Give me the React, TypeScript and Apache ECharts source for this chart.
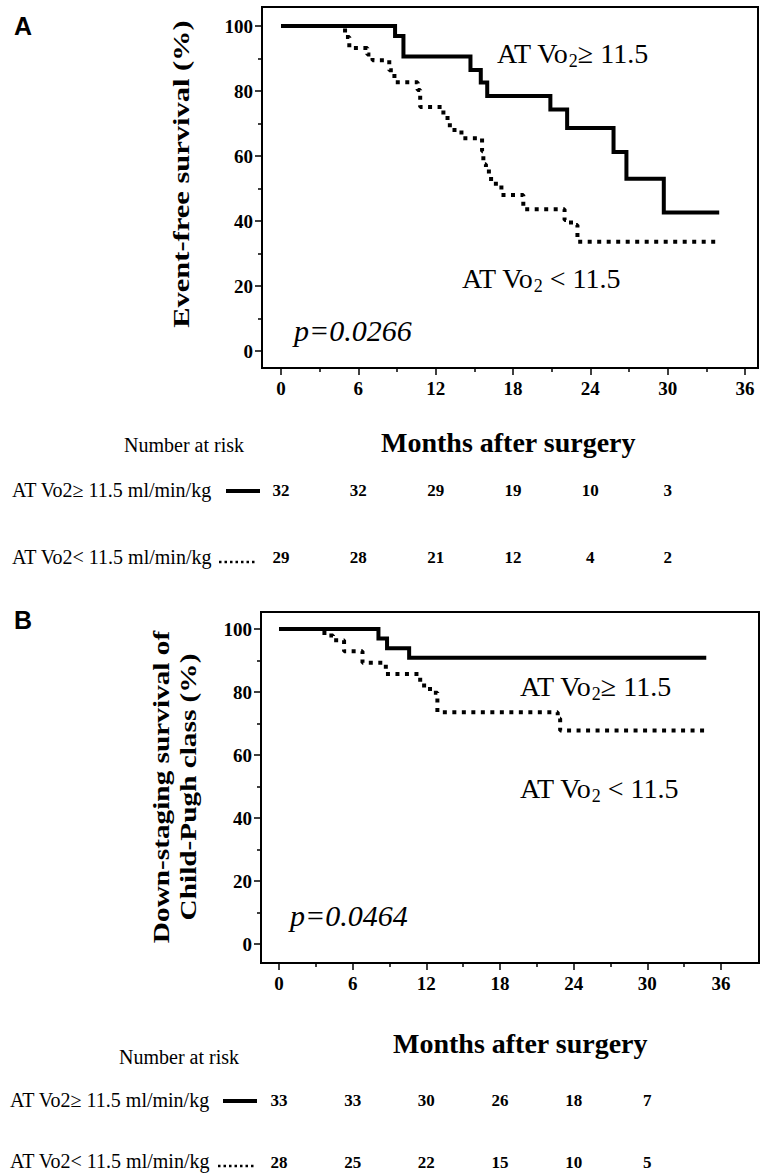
import React, { useEffect, useRef } from "react";
import * as echarts from "echarts";

// ---------- data ----------
const monthTicks = [0, 6, 12, 18, 24, 30, 36];
const monthMinor = [3, 9, 15, 21, 27, 33];
const pctTicks = [0, 20, 40, 60, 80, 100];
const pctMinor = [10, 30, 50, 70, 90];
const riskMonths = [0, 6, 12, 18, 24, 30];

// Panel A: event-free survival (%)
const aHighT = [0, 8.85, 9.5, 14.7, 15.5, 16.0, 20.9, 22.2, 25.8, 26.8, 29.7, 34.0];
const aHighS = [100, 96.9, 90.6, 86.5, 82.6, 78.5, 74.3, 68.6, 61.2, 53.0, 42.6, 42.6];
const aLowT = [0, 4.97, 5.3, 6.7, 7.1, 8.4, 8.8, 10.6, 10.8, 12.6, 13.1, 14.0, 15.6, 15.7, 15.9, 16.3, 17.1, 18.8, 22.0, 22.5, 23.0, 34.0];
const aLowS = [100, 96.6, 93.2, 91.2, 89.5, 86.4, 82.7, 80.3, 75.1, 71.7, 68.0, 65.5, 61.5, 57.5, 55.2, 51.5, 48.0, 43.6, 40.3, 38.8, 33.6, 33.6];

// Panel B: down-staging survival of Child-Pugh class (%)
const bHighT = [0, 8.1, 8.8, 10.6, 34.8];
const bHighS = [100, 97.0, 93.9, 90.9, 90.9];
const bLowT = [0, 3.7, 4.4, 5.3, 6.8, 8.7, 11.5, 12.3, 12.9, 22.7, 22.9, 34.8];
const bLowS = [100, 97.9, 96.4, 92.9, 89.3, 85.7, 82.1, 79.8, 73.6, 71.6, 67.8, 67.8];

// Number at risk
const riskAHigh = [32, 32, 29, 19, 10, 3];
const riskALow = [29, 28, 21, 12, 4, 2];
const riskBHigh = [33, 33, 30, 26, 18, 7];
const riskBLow = [28, 25, 22, 15, 10, 5];

const FONT = '"Liberation Serif", "Times New Roman", serif';

const zip = (t: number[], s: number[]) => t.map((v, i) => [v, s[i]]);

const tickStyle = { color: "#000", width: 1.5 };

function axisBase(grid: number, min: number, max: number, position: string) {
  return {
    type: "value", gridIndex: grid, min, max, position,
    splitLine: { show: false },
    minorTick: { show: false },
  };
}
function xMajor(grid: number, min: number, max: number) {
  return {
    ...axisBase(grid, min, max, "bottom"),
    axisLine: { show: true, onZero: false, lineStyle: { color: "#000", width: 2 } },
    axisTick: { show: true, inside: false, length: 7, customValues: monthTicks, lineStyle: tickStyle },
    axisLabel: { show: true, customValues: monthTicks, color: "#000", fontFamily: FONT, fontSize: 19, fontWeight: "bold", margin: 11 },
  };
}
function xMinor(grid: number, min: number, max: number) {
  return {
    ...axisBase(grid, min, max, "bottom"),
    axisLine: { show: false, onZero: false },
    axisTick: { show: true, inside: false, length: 4, customValues: monthMinor, lineStyle: tickStyle },
    axisLabel: { show: false },
  };
}
function yMajor(grid: number, min: number, max: number) {
  return {
    ...axisBase(grid, min, max, "left"),
    axisLine: { show: true, onZero: false, lineStyle: { color: "#000", width: 2 } },
    axisTick: { show: true, inside: false, length: 7, customValues: pctTicks, lineStyle: tickStyle },
    axisLabel: { show: true, customValues: pctTicks, color: "#000", fontFamily: FONT, fontSize: 19, fontWeight: "bold", margin: 9 },
  };
}
function yMinor(grid: number, min: number, max: number) {
  return {
    ...axisBase(grid, min, max, "left"),
    axisLine: { show: false, onZero: false },
    axisTick: { show: true, inside: false, length: 4, customValues: pctMinor, lineStyle: tickStyle },
    axisLabel: { show: false },
  };
}
function km(name: string, axis: number, t: number[], s: number[], dotted: boolean) {
  return {
    name, type: "line", xAxisIndex: axis, yAxisIndex: axis, step: "end", symbol: "none",
    data: zip(t, s),
    lineStyle: dotted
      ? { color: "#000", width: 4, type: [4, 5.5], cap: "butt" }
      : { color: "#000", width: 4, type: "solid", join: "miter" },
    silent: true,
  };
}

function txt(x: number, y: number, text: string, font: string, align = "left", extra: any = {}) {
  return {
    type: "text", x, y, ...extra,
    style: { text, font, fill: "#000", align, verticalAlign: "middle", textAlign: align, textVerticalAlign: "middle" },
  };
}
function vo2Label(x: number, y: number, rel: string) {
  return {
    type: "text", x, y,
    style: {
      text: `{a|AT Vo}{s|2}{a|${rel}}`,
      fill: "#000", align: "left", verticalAlign: "middle", textAlign: "left", textVerticalAlign: "middle",
      rich: {
        a: { fontFamily: FONT, fontSize: 28, lineHeight: 34, verticalAlign: "middle", fill: "#000" },
        s: { fontFamily: FONT, fontSize: 18, lineHeight: 12, verticalAlign: "bottom", fill: "#000" },
      },
    },
  };
}

export default function App() {
  const ref = useRef<HTMLDivElement>(null);
  useEffect(() => {
    document.body.style.margin = "0";
    const chart = echarts.init(ref.current as HTMLDivElement, null, { renderer: "svg" });
    // Panel frames: A 262..758 x 7..368 ; B 261..759 x 612..963
    const aX = [-19 / 12.889, 36 + 13 / 12.889];
    const aY = [-17 / 3.25, 100 + 19 / 3.25];
    const bX = [-18 / 12.278, 36 + 38 / 12.278];
    const bY = [-19 / 3.15, 100 + 17 / 3.15];
    chart.setOption({
      animation: false,
      backgroundColor: "#fff",
      grid: [
        { left: 262, top: 7, width: 496, height: 361, show: true, borderColor: "#000", borderWidth: 2, backgroundColor: "transparent" },
        { left: 261, top: 612, width: 498, height: 351, show: true, borderColor: "#000", borderWidth: 2, backgroundColor: "transparent" },
      ],
      xAxis: [
        xMajor(0, aX[0], aX[1]), xMajor(1, bX[0], bX[1]),
        xMinor(0, aX[0], aX[1]), xMinor(1, bX[0], bX[1]),
      ],
      yAxis: [
        yMajor(0, aY[0], aY[1]), yMajor(1, bY[0], bY[1]),
        yMinor(0, aY[0], aY[1]), yMinor(1, bY[0], bY[1]),
      ],
      series: [
        km("A high", 0, aHighT, aHighS, false),
        km("A low", 0, aLowT, aLowS, true),
        km("B high", 1, bHighT, bHighS, false),
        km("B low", 1, bLowT, bLowS, true),
      ],
    });

    const px = (i: number, t: number) => chart.convertToPixel({ xAxisIndex: i }, t) as number;
    const riskRow = (i: number, vals: number[], y: number) =>
      vals.map((v, k) => txt(px(i, riskMonths[k]), y, String(v), `bold 17px ${FONT}`, "center"));

    const rowFont = `20px ${FONT}`;
    const graphic: any[] = [
      // panel letters
      txt(14, 26, "A", `bold 25px "Liberation Sans", Arial, sans-serif`),
      txt(14, 620, "B", `bold 25px "Liberation Sans", Arial, sans-serif`),
      // y titles
      txt(181, 174, "Event-free survival (%)", `bold 24px ${FONT}`, "center", { rotation: Math.PI / 2, scaleX: 1.27 }),
      txt(161, 787, "Down-staging survival of", `bold 24px ${FONT}`, "center", { rotation: Math.PI / 2, scaleX: 1.22 }),
      txt(188, 787, "Child-Pugh class (%)", `bold 24px ${FONT}`, "center", { rotation: Math.PI / 2, scaleX: 1.22 }),
      // curve labels
      vo2Label(497, 53, "≥ 11.5"),
      vo2Label(462, 278, " < 11.5"),
      txt(294, 330, "p=0.0266", `italic 30px ${FONT}`),
      vo2Label(520, 686, "≥ 11.5"),
      vo2Label(520, 788, " < 11.5"),
      txt(290, 915, "p=0.0464", `italic 30px ${FONT}`),
      // risk table A
      txt(124, 445, "Number at risk", rowFont),
      txt(381, 442, "Months after surgery", `bold 28px ${FONT}`),
      txt(12, 490, "AT Vo2≥ 11.5 ml/min/kg", rowFont),
      { type: "line", shape: { x1: 226, y1: 491, x2: 260, y2: 491 }, style: { stroke: "#000", lineWidth: 4 } },
      txt(12, 557, "AT Vo2< 11.5 ml/min/kg", rowFont),
      { type: "line", shape: { x1: 219, y1: 562, x2: 257, y2: 562 }, style: { stroke: "#000", lineWidth: 2.5, lineDash: [2.5, 3] } },
      ...riskRow(0, riskAHigh, 490),
      ...riskRow(0, riskALow, 557),
      // risk table B
      txt(119, 1057, "Number at risk", rowFont),
      txt(393, 1043, "Months after surgery", `bold 28px ${FONT}`),
      txt(10, 1100, "AT Vo2≥ 11.5 ml/min/kg", rowFont),
      { type: "line", shape: { x1: 223, y1: 1101, x2: 257, y2: 1101 }, style: { stroke: "#000", lineWidth: 4 } },
      txt(10, 1161, "AT Vo2< 11.5 ml/min/kg", rowFont),
      { type: "line", shape: { x1: 218, y1: 1166, x2: 255, y2: 1166 }, style: { stroke: "#000", lineWidth: 2.5, lineDash: [2.5, 3] } },
      ...riskRow(1, riskBHigh, 1100),
      ...riskRow(1, riskBLow, 1162),
    ];
    chart.setOption({ graphic });
    return () => chart.dispose();
  }, []);
  return <div ref={ref} style={{ width: 761, height: 1174 }} />;
}
